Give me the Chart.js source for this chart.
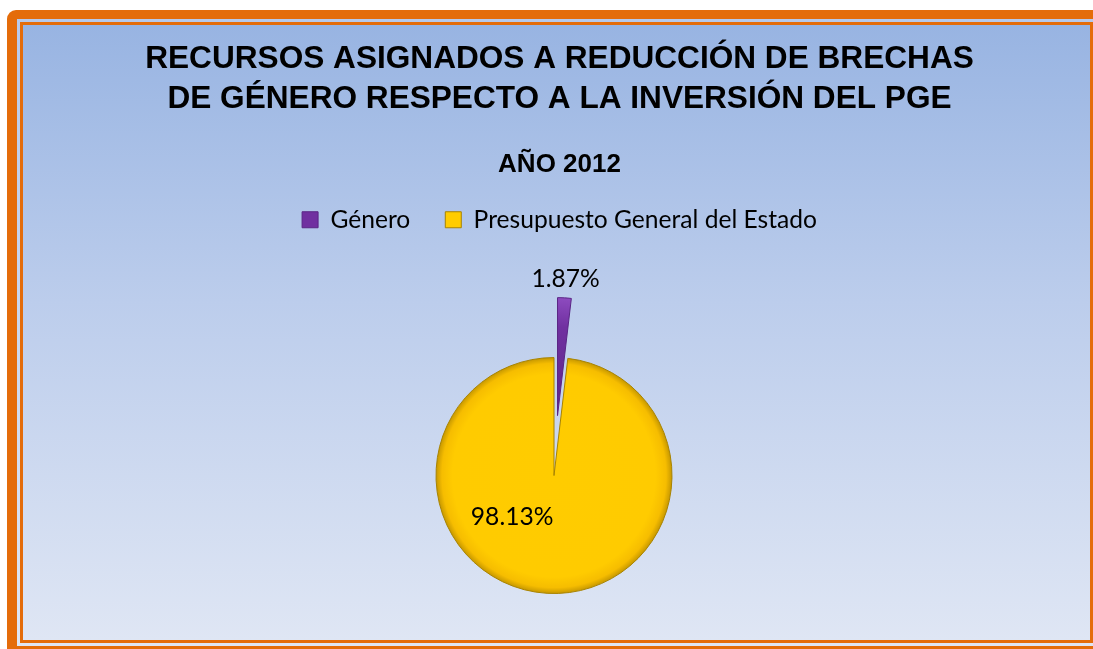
<!DOCTYPE html>
<html><head><meta charset="utf-8">
<script src="https://cdn.jsdelivr.net/npm/chart.js@4.4.1/dist/chart.umd.min.js"></script>
<style>
html,body{margin:0;padding:0;background:#fff;width:1093px;height:649px;overflow:hidden;}
#frameOuter{position:absolute;left:7px;top:10px;width:1200px;height:700px;background:#e46c0a;border-top-left-radius:9px;}
#frameGap{position:absolute;left:17px;top:19px;width:1200px;height:627px;background:linear-gradient(#b7c9ea,#dfe6f4);}
#frameInner{position:absolute;left:20px;top:22px;width:1073px;height:621px;background:#e46c0a;}
#plot{position:absolute;left:23px;top:25px;width:1067px;height:615px;overflow:hidden;background:linear-gradient(#98b4e2,#bccdec 45%,#dfe6f4);}
canvas{display:block}
</style></head><body>
<div id="frameOuter"></div><div id="frameGap"></div><div id="frameInner"></div>
<div id="plot"><canvas id="c" width="1067" height="684"></canvas></div>
<script>
const categories = ['Género', 'Presupuesto General del Estado'];
const shares = [1.87, 98.13];
const titleLines = ['RECURSOS ASIGNADOS A REDUCCIÓN DE BRECHAS', 'DE GÉNERO RESPECTO A LA INVERSIÓN DEL PGE'];
const subtitleText = 'AÑO 2012';

const baseColors = ['#7030a0', '#ffcc00'];
const edgeColors = ['#5a2585', '#a88300'];

function sliceFill(ctx) {
  const chart = ctx.chart;
  const i = ctx.dataIndex;
  const area = chart.chartArea;
  const ctrl = chart.getDatasetMeta(0).controller;
  const r = ctrl && ctrl.outerRadius;
  if (!area || !r) return baseColors[i];
  const cx = (area.left + area.right) / 2, cy = (area.top + area.bottom) / 2;
  const g = chart.ctx.createRadialGradient(cx, cy, 0, cx, cy, r);
  if (i === 0) {
    g.addColorStop(0, '#5e2688');
    g.addColorStop(0.75, '#7030a0');
    g.addColorStop(1, '#8d4bbf');
  } else {
    g.addColorStop(0, '#ffcc00');
    g.addColorStop(0.86, '#ffcb00');
    g.addColorStop(0.95, '#f6bd00');
    g.addColorStop(1, '#c79800');
  }
  return g;
}

// Reserve a thin empty strip on the right of the plot area so the pie sits where it does in the original
const sideStripPlugin = {
  id: 'sideStrip',
  beforeInit(chart) {
    Chart.layouts.addBox(chart, {
      position: 'right', weight: 0, fullSize: false,
      options: {},
      width: 0, height: 0,
      isHorizontal() { return false; },
      update(maxWidth, maxHeight) { this.width = 11; this.height = maxHeight; },
      draw() {}
    });
  }
};

// Draw each arc translated outward by its dataset "explode" amount (full slice shift)
const explodePlugin = {
  id: 'explode',
  beforeDatasetDraw(chart, args) {
    const ds = chart.data.datasets[args.index];
    const ex = ds.explode || [];
    const ctx = chart.ctx;
    args.meta.data.forEach((arc, i) => {
      const off = ex[i] || 0;
      const mid = (arc.startAngle + arc.endAngle) / 2;
      ctx.save();
      ctx.translate(Math.cos(mid) * off, Math.sin(mid) * off);
      arc.draw(ctx);
      ctx.restore();
    });
    return false;
  }
};

const labelPlugin = {
  id: 'sliceLabels',
  afterDatasetsDraw(chart) {
    const meta = chart.getDatasetMeta(0);
    const ds = chart.data.datasets[0];
    const data = ds.data;
    const ex = ds.explode || [];
    const total = data.reduce((a, b) => a + b, 0);
    const c = chart.ctx;
    c.save();
    c.font = '24.6px Lato';
    c.fillStyle = '#000';
    c.textAlign = 'center';
    c.textBaseline = 'middle';
    meta.data.forEach((arc, i) => {
      const p = arc.getProps(['x', 'y', 'startAngle', 'endAngle', 'outerRadius'], true);
      const mid = (p.startAngle + p.endAngle) / 2;
      const off = ex[i] || 0;
      const frac = data[i] / total;
      let x, y;
      if (frac < 0.1) {
        const d = p.outerRadius + off + 19;
        x = p.x + Math.cos(mid) * d;
        y = p.y + Math.sin(mid) * d;
      } else {
        const a = mid + 0.73;
        const d = p.outerRadius * 0.5;
        x = p.x + Math.cos(a) * d;
        y = p.y + Math.sin(a) * d;
      }
      c.fillText((frac * 100).toFixed(2) + '%', x, y);
    });
    c.restore();
  }
};

new Chart(document.getElementById('c'), {
  type: 'pie',
  data: {
    labels: categories,
    datasets: [{
      data: shares,
      backgroundColor: sliceFill,
      borderColor: edgeColors,
      borderWidth: 1,
      explode: [60, 0],
      radius: 118
    }]
  },
  plugins: [sideStripPlugin, explodePlugin, labelPlugin],
  options: {
    responsive: false,
    animation: false,
    events: [],
    radius: 118,
    layout: { padding: { left: 6, right: 0, top: 0, bottom: 0 } },
    plugins: {
      title: {
        display: true, text: titleLines, color: '#000',
        font: { family: "'Liberation Sans', Arial, sans-serif", size: 31.6, weight: 'bold', lineHeight: 1.27 },
        padding: { top: 14, bottom: 0 }
      },
      subtitle: {
        display: true, text: subtitleText, color: '#000',
        font: { family: "'Liberation Sans', Arial, sans-serif", size: 26, weight: 'bold', lineHeight: 1.2 },
        padding: { top: 30, bottom: -8 }
      },
      legend: {
        position: 'top',
        labels: {
          boxWidth: 16, boxHeight: 16, padding: 35, color: '#000',
          font: { family: 'Lato', size: 24.6 },
          generateLabels: (chart) => chart.data.labels.map((l, i) => ({
            text: l, fillStyle: baseColors[i], strokeStyle: edgeColors[i], lineWidth: 1, index: i, hidden: false
          }))
        }
      },
      tooltip: { enabled: false }
    }
  }
});
</script>
</body></html>
